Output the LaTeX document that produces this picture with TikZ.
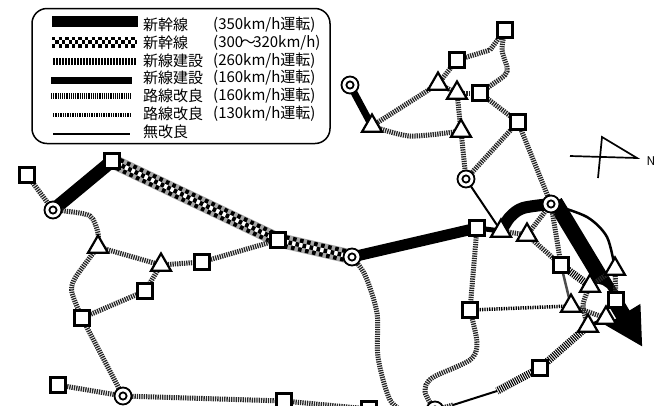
\documentclass[tikz,border=0pt]{standalone}
\usepackage{fontspec}
\setmainfont{Noto Sans CJK JP}
\usetikzlibrary{arrows.meta,shapes.geometric,backgrounds}
\tikzset{
	sta/.style={draw,fill=white,line width=2.1pt,minimum size=15pt,inner sep=0pt},
	tri/.style={draw,fill=white,line width=2.2pt,regular polygon,regular polygon sides=3,minimum size=23pt,inner sep=0pt},
	hub/.style={draw,circle,fill=white,line width=1.8pt,minimum size=17pt,inner sep=0pt,
		path picture={\draw[line width=1.8pt] (path picture bounding box.center) circle[radius=3.6pt];}},
	lab/.style={anchor=west,inner sep=0pt,font=\fontsize{15}{15}\selectfont},
	shin/.style={line width=11pt},
	checker/.style={line width=11pt,dash pattern=on 3.3pt off 3.3pt,
		postaction={draw,white,solid,line width=3.7pt},
		postaction={draw,black,line width=3.7pt,dash pattern=on 3.3pt off 3.3pt,dash phase=3.3pt}},
	checkerroute/.style={line width=13pt,dash pattern=on 3.6pt off 3.6pt,
		preaction={draw,black!35,solid,line width=14.5pt},
		postaction={draw,white,solid,line width=4.4pt},
		postaction={draw,black,line width=4.4pt,dash pattern=on 3.6pt off 3.6pt,dash phase=3.6pt}},
	hatch/.style={line width=7pt,dash pattern=on 2pt off 1pt,
		postaction={draw,white,line width=2.6pt,dash pattern=on 1pt off 2pt,dash phase=1pt}},
	newline/.style={line width=6.5pt},
	wide/.style={line width=6pt,dash pattern=on 1.1pt off 1.1pt},
	broad/.style={line width=7.5pt,dash pattern=on 1.1pt off 1.1pt},
	mid/.style={line width=5pt,dash pattern=on 1.3pt off 1pt,black!85},
	low/.style={line width=3.5pt,dash pattern=on 1.3pt off 1.1pt},
	plain/.style={line width=2pt}
}
\begin{document}
\begin{tikzpicture}[x=1pt,y=-1pt]
	\useasboundingbox (0,0) rectangle (659,405);
	% legend
	\node[draw,line width=1.5pt,rounded corners=15pt,minimum width=298pt,minimum height=135pt,inner sep=0pt] (legend) at (181,76) {};
	\coordinate (la1) at (52,21);
	\coordinate (lb1) at (138,21);
	\coordinate (la2) at (52,42);
	\coordinate (lb2) at (137,42);
	\coordinate (la3) at (53,61);
	\coordinate (lb3) at (136,61);
	\coordinate (la4) at (51,80.5);
	\coordinate (lb4) at (132,80.5);
	\coordinate (la5) at (51,96);
	\coordinate (lb5) at (132,96);
	\coordinate (la6) at (53,115);
	\coordinate (lb6) at (131,115);
	\coordinate (la7) at (53,134);
	\coordinate (lb7) at (130,134);
	\draw[shin] (la1) -- (lb1);
	\draw[checker] (la2) -- (lb2);
	\draw[hatch] (la3) -- (lb3);
	\draw[newline] (la4) -- (lb4);
	\draw[wide] (la5) -- (lb5);
	\draw[low] (la6) -- (lb6);
	\draw[plain] (la7) -- (lb7);
	\node[lab] (name1) at (143,25) {新幹線};
	\node[lab] (name2) at (143,43) {新幹線};
	\node[lab] (name3) at (143,61) {新線建設};
	\node[lab] (name4) at (143,78) {新線建設};
	\node[lab] (name5) at (143,96) {路線改良};
	\node[lab] (name6) at (143,114) {路線改良};
	\node[lab] (name7) at (143,132) {無改良};
	\node[lab] (speed1) at (213,25) {(350km/h運転)};
	\node[lab] (speed2) at (213,43) {(300\kern-2.5pt〜\kern-2.5pt320km/h)};
	\node[lab] (speed3) at (213,61) {(260km/h運転)};
	\node[lab] (speed4) at (213,78) {(160km/h運転)};
	\node[lab] (speed5) at (213,96) {(160km/h運転)};
	\node[lab] (speed6) at (213,114) {(130km/h運転)};
	% north mark
	\coordinate (na) at (570,156);
	\coordinate (nb) at (637,158);
	\coordinate (nc) at (602,137);
	\coordinate (nd) at (598,178);
	\draw[line width=1.7pt] (na) -- (nb) -- (nc) -- (nd);
	\node[inner sep=0pt,font=\fontsize{12}{12}\selectfont] (north) at (651,161) {N};
	% stations
	\node[sta] (sqA) at (27,175) {};
	\node[sta] (sqB) at (112,161) {};
	\node[hub] (hubA) at (53,210) {};
	\node[sta] (sqC) at (278,240) {};
	\node[tri] (triA) at (98,247) {};
	\node[tri] (triB) at (161,265) {};
	\node[sta] (sqD) at (202,262) {};
	\node[sta] (sqE) at (145,291) {};
	\node[sta] (sqF) at (82,318) {};
	\node[hub] (hubB) at (123,396) {};
	\node[sta] (sqG) at (58,385) {};
	\node[sta] (sqH) at (284,401) {};
	\node[sta] (sqI) at (369,409) {};
	\node[hub] (hubC) at (352,257) {};
	\node[sta] (sqJ) at (477,228) {};
	\node[tri] (triC) at (501,231) {};
	\node[tri] (triD) at (527,235) {};
	\node[hub] (hubD) at (551,204) {};
	\node[sta] (sqK) at (561,265) {};
	\node[tri] (triE) at (571,306) {};
	\node[tri] (triF) at (590,286) {};
	\node[tri] (triG) at (615,269) {};
	\node[sta] (sqL) at (616,300) {};
	\node[tri] (triH) at (606,318) {};
	\node[tri] (triI) at (588,326) {};
	\node[sta] (sqM) at (540,368) {};
	\node[sta] (sqN) at (470,310) {};
	\node[hub] (hubE) at (435,410) {};
	\node[hub] (hubF) at (466,179) {};
	\node[hub] (hubG) at (350,85) {};
	\node[tri] (triJ) at (372,126) {};
	\node[tri] (triK) at (461,131) {};
	\node[tri] (triL) at (438,84) {};
	\node[tri] (triM) at (457,93) {};
	\node[sta] (sqO) at (480,93) {};
	\node[sta] (sqP) at (457,60) {};
	\node[sta] (sqQ) at (505,30) {};
	\node[sta] (sqR) at (518,122) {};
	% free ends and bends
	\coordinate (arrowA) at (555,202);
	\coordinate (arrowB) at (642.5,347);
	\coordinate (bendA) at (490,50);
	\coordinate (bendB) at (497,391);
	\coordinate (bendC) at (453,405);
	\coordinate (offA) at (408,414);
	\begin{scope}[on background layer]
		\draw[line width=15.5pt,-{Triangle[length=38pt,width=38pt]}] (arrowA) -- (arrowB);
		\fill[white] (597,298) circle[radius=14pt];
		% west side
		\draw[mid] (sqA.center) -- (hubA.center);
		\draw[line width=13pt] (hubA.center) -- (sqB.center);
		\draw[checkerroute] (sqB.center) -- (sqC.center);
		\draw[checkerroute] (sqC.center) -- (hubC.center);
		\draw[line width=11pt] (hubC.center) -- (sqJ.center);
		\draw[line width=5pt] (sqJ.center) -- (triC.center);
		\draw[mid] plot[smooth] coordinates {(hubA.center) (65,211) (90,216) (98,233) (triA.center)};
		\draw[mid] (triA.center) -- (triB.center);
		\draw[mid] (triB.center) -- (sqD.center);
		\draw[mid] (sqD.center) -- (sqC.center);
		\draw[mid] (triB.center) -- (sqE.center);
		\draw[mid] (sqE.center) -- (sqF.center);
		\draw[mid] plot[smooth] coordinates {(triA.center) (88,260) (74,280) (72,293) (sqF.center)};
		\draw[mid] (sqF.center) -- (hubB.center);
		\draw[mid] (sqG.center) -- (hubB.center);
		\draw[mid] (hubB.center) -- (sqH.center);
		\draw[mid] (sqH.center) -- (sqI.center);
		% south side
		\draw[mid] plot[smooth] coordinates {(hubC.center) (365,275) (377,313) (378,357) (390,400) (offA)};
		\draw[mid] (sqJ.center) -- (sqN.center);
		\draw[low] (sqN.center) -- (triE.center);
		\draw[mid] plot[smooth] coordinates {(sqN.center) (477,343) (470,360) (432,378) (425,392) (hubE.center)};
		\draw[broad] (triI.center) -- (sqM.center);
		\draw[broad] (sqM.center) -- (bendB);
		\draw[plain] (bendB) -- (bendC);
		\draw[mid] (bendC) -- (hubE.center);
		% north side
		\draw[line width=7pt] (hubG.center) -- (triJ.center);
		\draw[mid] (triJ.center) -- (triL.center);
		\draw[mid] plot[smooth] coordinates {(triJ.center) (410,136) (triK.center)};
		\draw[mid] (triL.center) -- (triM.center);
		\draw[mid] (triL.center) -- (sqP.center);
		\draw[mid] (triM.center) -- (sqO.center);
		\draw[mid] (triM.center) -- (triK.center);
		\draw[mid] (triK.center) -- (hubF.center);
		\draw[mid] (hubF.center) -- (sqR.center);
		\draw[plain] (hubF.center) -- (triC.center);
		\draw[mid] (sqO.center) -- (sqR.center);
		\draw[mid] (sqP.center) -- (bendA) -- (sqQ.center);
		\draw[mid] plot[smooth] coordinates {(sqO.center) (490,86) (505,75) (507,67) (502,50) (sqQ.center)};
		\draw[mid] (sqR.center) -- (hubD.center);
		% around the arrow
		\draw[line width=12pt] plot[smooth] coordinates {(triC.center) (510,217) (523,208) (hubD.center)};
		\draw[mid] (triC.center) -- (triD.center);
		\draw[mid] (triD.center) -- (hubD.center);
		\draw[mid] (triD.center) -- (sqK.center);
		\draw[mid] (hubD.center) -- (sqK.center);
		\draw[line width=2.5pt] plot[smooth] coordinates {(hubD.center) (587,217) (607,237) (triG.center)};
		\draw[broad] (sqK.center) -- (triF.center);
		\draw[line width=2.5pt,black!70] (sqK.center) -- (triE.center);
		\draw[mid] (triG.center) -- (triF.center);
		\draw[mid] (triG.center) -- (sqL.center);
		\draw[mid] plot[smooth] coordinates {(triF.center) (583,305) (triI.center)};
		\draw[mid] (triE.center) -- (triH.center);
		\draw[line width=3pt] (triI.center) -- (triH.center);
	\end{scope}
\end{tikzpicture}
\end{document}
